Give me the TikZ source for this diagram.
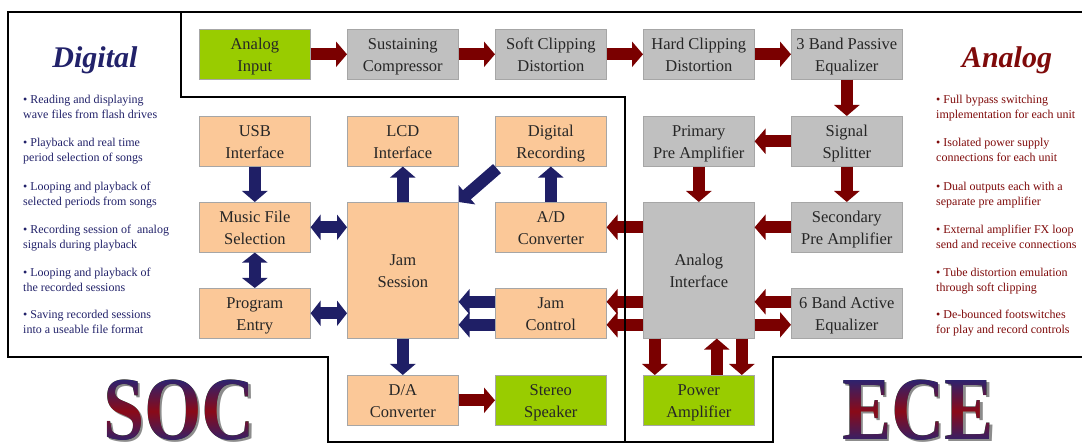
\documentclass[tikz,border=0pt]{standalone}
\usepackage{fontspec}
\setmainfont{Liberation Serif}
\usepackage{graphicx}
\usetikzlibrary{arrows.meta,calc}
\definecolor{grn}{HTML}{99CC00}
\definecolor{gry}{HTML}{C0C0C0}
\definecolor{pch}{HTML}{FBC898}
\definecolor{dred}{HTML}{7A0000}
\definecolor{navy}{HTML}{1F1F66}
\definecolor{txtnavy}{HTML}{22226A}
\definecolor{txtred}{HTML}{7F0A0A}
\definecolor{socred}{HTML}{8A0A18}
\definecolor{socnavy}{HTML}{2C2370}
\tikzset{
  box/.style={draw=black!35, line width=0.6pt, anchor=north west, minimum width=111pt,
    minimum height=50pt, inner sep=0pt, align=center, text height=35pt, text depth=0pt,
    font=\fontsize{16.5}{22}\selectfont, text=black!85},
  gbox/.style={box, fill=gry},
  pbox/.style={box, fill=pch},
  grbox/.style={box, fill=grn},
  tall/.style={minimum height=136pt},
  ra/.style={draw=dred, line width=12pt, -{Triangle[width=25pt,length=11pt]}},
  na/.style={draw=navy, line width=12pt, -{Triangle[width=25pt,length=11pt]}},
  nda/.style={draw=navy, line width=12pt, {Triangle[width=25pt,length=10pt]}-{Triangle[width=25pt,length=10pt]}},
  side/.style={anchor=base west, align=left, inner sep=0pt, font=\fontsize{12}{15}\selectfont},
  ttl/.style={anchor=base, inner sep=0pt, font=\fontsize{30}{30}\selectfont\bfseries\itshape},
  big/.style={anchor=base, inner sep=0pt, font=\fontsize{90}{90}\selectfont\bfseries},
  grad/.style={blend mode=lighten, top color=socnavy, bottom color=socnavy, middle color=socred},
  frame/.style={draw=black, line width=2pt},
}
\begin{document}
\begin{tikzpicture}[x=1pt,y=-1pt]
\useasboundingbox (0,0) rectangle (1082,443);
\fill[white] (0,0) rectangle (1082,443);

% big labels: shadow, text, gradient laid on by a lighten blend
\node[big, text=black!45] (socsh) at (181.5,441.5) {\scalebox{0.82}[1]{SOC}};
\node[big, text=black] (soc) at (179,440) {\scalebox{0.82}[1]{SOC}};
\shade[grad] ($(soc.north west)+(-4,-1)$) rectangle ($(soc.south east)+(6,2)$);
\node[big, text=black!45] (ecesh) at (920.5,441.5) {\scalebox{0.82}[1]{ECE}};
\node[big, text=black] (ece) at (918,440) {\scalebox{0.82}[1]{ECE}};
\shade[grad] ($(ece.north west)+(-4,-1)$) rectangle ($(ece.south east)+(6,2)$);

% side texts
\node[ttl, text=txtnavy] (dig) at (95,68) {Digital};
\node[ttl, text=txtred] (ana) at (1007,68) {Analog};
\node[side, text=txtnavy] (d1) at (23,119) {• Reading and displaying\\wave files from flash drives};
\node[side, text=txtnavy] (d2) at (23,162) {• Playback and real time\\period selection of songs};
\node[side, text=txtnavy] (d3) at (23,206) {• Looping and playback of\\selected periods from songs};
\node[side, text=txtnavy] (d4) at (23,249) {• Recording session of\ \ analog\\signals during playback};
\node[side, text=txtnavy] (d5) at (23,292) {• Looping and playback of\\the recorded sessions};
\node[side, text=txtnavy] (d6) at (23,334) {• Saving recorded sessions\\into a useable file format};
\node[side, text=txtred] (a1) at (936,119) {• Full bypass switching\\implementation for each unit};
\node[side, text=txtred] (a2) at (936,162) {• Isolated power supply\\connections for each unit};
\node[side, text=txtred] (a3) at (936,206) {• Dual outputs each with a\\separate pre amplifier};
\node[side, text=txtred] (a4) at (936,249) {• External amplifier FX loop\\send and receive connections};
\node[side, text=txtred] (a5) at (936,292) {• Tube distortion emulation\\through soft clipping};
\node[side, text=txtred] (a6) at (936,334) {• De-bounced footswitches\\for play and record controls};

% boxes
\node[grbox] (ain) at (199,29) {Analog\\Input};
\node[gbox] (sc) at (347,29) {Sustaining\\Compressor};
\node[gbox] (soft) at (495,29) {Soft Clipping\\Distortion};
\node[gbox] (hard) at (643,29) {Hard Clipping\\Distortion};
\node[gbox] (peq) at (791,29) {3 Band Passive\\Equalizer};
\node[pbox] (usb) at (199,116) {USB\\Interface};
\node[pbox] (lcd) at (347,116) {LCD\\Interface};
\node[pbox] (dr) at (495,116) {Digital\\Recording};
\node[gbox] (ppa) at (643,116) {Primary\\Pre Amplifier};
\node[gbox] (ss) at (791,116) {Signal\\Splitter};
\node[pbox] (mfs) at (199,202) {Music File\\Selection};
\node[pbox, tall] (js) at (347,202) {Jam\\Session};
\node[pbox] (adc) at (495,202) {A/D\\Converter};
\node[gbox, tall] (ai) at (643,202) {Analog\\Interface};
\node[gbox] (spa) at (791,202) {Secondary\\Pre Amplifier};
\node[pbox] (pe) at (199,288) {Program\\Entry};
\node[pbox] (jc) at (495,288) {Jam\\Control};
\node[gbox] (aeq) at (791,288) {6 Band Active\\Equalizer};
\node[pbox] (dac) at (347,375) {D/A\\Converter};
\node[grbox] (spk) at (495,375) {Stereo\\Speaker};
\node[grbox] (pa) at (643,375) {Power\\Amplifier};

% red arrows
\draw[ra] (ain) -- (sc);
\draw[ra] (sc) -- (soft);
\draw[ra] (soft) -- (hard);
\draw[ra] (hard) -- (peq);
\draw[ra] (peq) -- (ss);
\draw[ra] (ss) -- (ppa);
\draw[ra] (ss) -- (spa);
\draw[ra] (ppa) -- (ai.north -| ppa.south);
\draw[ra] (spa) -- (spa -| ai.east);
\draw[ra] ([yshift=11.5pt]aeq.west) -- ([yshift=11.5pt]aeq.west -| ai.east);
\draw[ra] ([yshift=-11.5pt]aeq.west -| ai.east) -- ([yshift=-11.5pt]aeq.west);
\draw[ra] (ai.west |- adc.east) -- (adc.east);
\draw[ra] ([yshift=11.5pt]jc.east -| ai.west) -- ([yshift=11.5pt]jc.east);
\draw[ra] ([yshift=-11.5pt]jc.east -| ai.west) -- ([yshift=-11.5pt]jc.east);
\draw[ra] ([xshift=-44pt]ai.south) -- ([xshift=-44pt]pa.north);
\draw[ra] ([xshift=18pt]pa.north) -- ([xshift=18pt]ai.south);
\draw[ra] ([xshift=43pt]ai.south) -- ([xshift=43pt]pa.north);
\draw[ra] (dac) -- (spk);

% navy arrows
\draw[na] (usb) -- (mfs);
\draw[nda] (mfs) -- (pe);
\draw[nda] (mfs) -- (mfs -| js.west);
\draw[nda] (pe) -- (pe -| js.west);
\draw[na] (js.north -| lcd.south) -- (lcd);
\draw[na] ([xshift=2pt,yshift=-2pt]dr.south west) -- (js.north east);
\draw[na] (adc) -- (dr);
\draw[na] ([yshift=11.5pt]jc.west) -- ([yshift=11.5pt]jc.west -| js.east);
\draw[na] ([yshift=-11.5pt]jc.west) -- ([yshift=-11.5pt]jc.west -| js.east);
\draw[na] (js) -- (dac);

% frames
\draw[frame] (8,12) -- (181,12) -- (181,97) -- (625,97) -- (625,442) -- (328,442) -- (328,357) -- (8,357) -- cycle;
\draw[frame] (181,12) -- (1084,12);
\draw[frame] (625,442) -- (773,442) -- (773,357) -- (1084,357);
\end{tikzpicture}
\end{document}
